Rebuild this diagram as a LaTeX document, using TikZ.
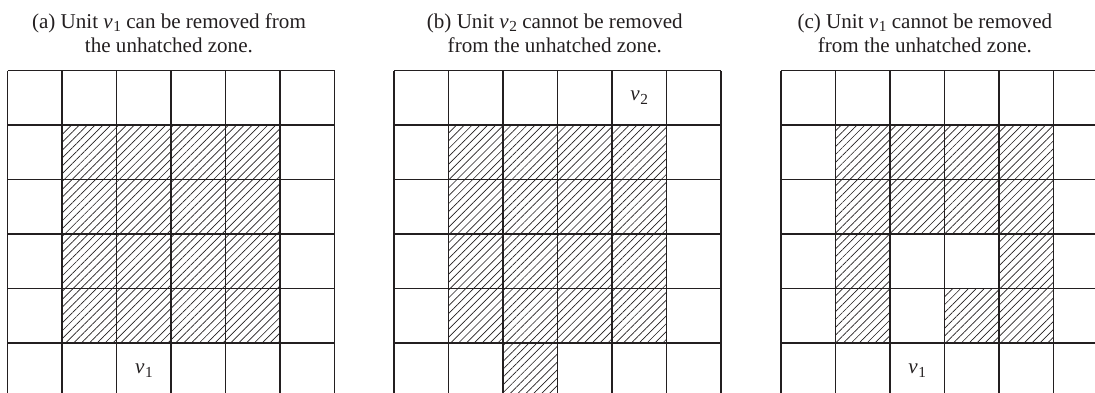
\documentclass[tikz,border=0pt]{standalone}
\usepackage{fontspec}
\setmainfont{Liberation Serif}
\usetikzlibrary{patterns.meta}
\definecolor{zoneInk}{HTML}{231F20}
\newcommand{\unitv}[1]{\textit{v}\kern0.03em\raisebox{-0.4ex}{\fontsize{8}{8}\selectfont #1}}
\tikzset{
  every picture/.style={font=\fontsize{11}{13}\selectfont, text=zoneInk},
  zone grid/.style={draw=zoneInk, line width=0.75pt},
  zone hatch/.style={pattern={Lines[angle=45,distance=2.9pt,line width=0.35pt]},
    pattern color=zoneInk},
  zone caption/.style={align=center, anchor=base, inner sep=0pt},
  zone unit/.style={inner sep=0pt}
}

\begin{document}
\begin{tikzpicture}[x=1cm,y=1cm]
  \clip (0,-5.914) rectangle (20.092,1.297);
  % hatched cells, panel (a)
  \foreach \c in {1,...,4}{
    \foreach \r in {1,...,4}{
      \fill[zone hatch] (0.14+\c,-\r) rectangle ++(1,-1);
    }
  }
  % hatched cells, panel (b)
  \foreach \c/\r in {1/1,2/1,3/1,4/1,1/2,2/2,3/2,4/2,1/3,2/3,3/3,4/3,1/4,2/4,3/4,4/4,2/5}{
    \fill[zone hatch] (7.23+\c,-\r) rectangle ++(1,-1);
  }
  % hatched cells, panel (c)
  \foreach \c/\r in {1/1,2/1,3/1,4/1,1/2,2/2,3/2,4/2,1/3,4/3,1/4,3/4,4/4}{
    \fill[zone hatch] (14.33+\c,-\r) rectangle ++(1,-1);
  }
  \foreach \gx in {0.14,7.23,14.33}{
    \begin{scope}[shift={(\gx,0)}]
      \draw[zone grid] (0,0) grid (6,-6);
    \end{scope}
  }
  \node[zone caption] (capA) at (3.10,0.325) {(a) Unit \unitv{1} can be removed from\\ the unhatched zone.};
  \node[zone caption] (capB) at (10.18,0.325) {(b) Unit \unitv{2} cannot be removed\\ from the unhatched zone.};
  \node[zone caption] (capC) at (16.97,0.325) {(c) Unit \unitv{1} cannot be removed\\ from the unhatched zone.};
  \node[zone unit] (unitA) at (2.64,-5.5) {\unitv{1}};
  \node[zone unit] (unitB) at (11.73,-0.5) {\unitv{2}};
  \node[zone unit] (unitC) at (16.83,-5.5) {\unitv{1}};
\end{tikzpicture}
\end{document}
